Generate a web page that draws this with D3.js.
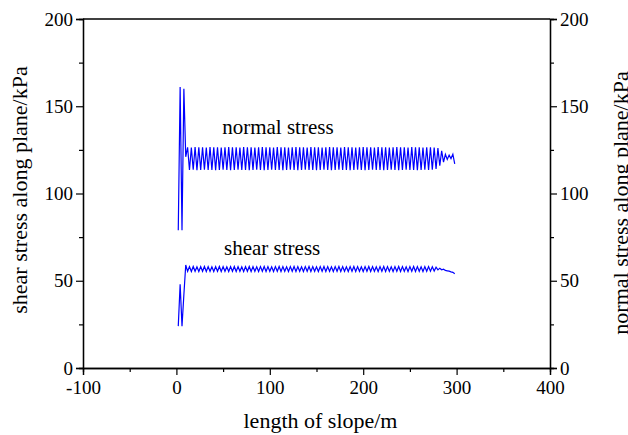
<!DOCTYPE html>
<html>
<head>
<meta charset="utf-8">
<script src="https://cdn.jsdelivr.net/npm/d3@7"></script>
<style>
  body { margin: 0; background: #fff; }
  svg text { font-family: "Liberation Serif", "Times New Roman", serif; fill: #000; }
</style>
</head>
<body>
<div id="chart"></div>
<script>
    // Constants
    const width = 628;
    const height = 435;
    const margin = {top: 19, right: 78, bottom: 67, left: 83};
    const lineColor = "#0000ff";

    // length of slope (m), node positions
    const slopeLength = [
        2, 4, 6, 8, 10, 12, 14, 16, 18, 20, 22, 24, 26, 28, 30, 32, 34, 36, 38, 40, 42, 44, 46, 48, 50,
        52, 54, 56, 58, 60, 62, 64, 66, 68, 70, 72, 74, 76, 78, 80, 82, 84, 86, 88, 90, 92, 94, 96, 98, 100,
        102, 104, 106, 108, 110, 112, 114, 116, 118, 120, 122, 124, 126, 128, 130, 132, 134, 136, 138, 140, 142, 144, 146, 148, 150,
        152, 154, 156, 158, 160, 162, 164, 166, 168, 170, 172, 174, 176, 178, 180, 182, 184, 186, 188, 190, 192, 194, 196, 198, 200,
        202, 204, 206, 208, 210, 212, 214, 216, 218, 220, 222, 224, 226, 228, 230, 232, 234, 236, 238, 240, 242, 244, 246, 248, 250,
        252, 254, 256, 258, 260, 262, 264, 266, 268, 270, 272, 274, 276, 278, 280, 282, 284, 286, 288, 290, 292, 294, 296, 298
    ];

    // normal stress along plane (kPa)
    const normalStress = [
        79, 161, 79, 160, 121,
        126.5, 113.5, 126.4, 113.6, 126.6, 113.4, 126.5, 113.5, 126.5, 113.6, 126.4, 113.5, 126.6, 113.5, 126.5, 113.4, 126.5, 113.5, 126.4, 113.6,
        126.5, 113.5, 126.6, 113.4, 126.5, 113.5, 126.5, 113.6, 126.4, 113.5, 126.6, 113.5, 126.5, 113.4, 126.5, 113.5, 126.4, 113.6, 126.5, 113.5,
        126.6, 113.4, 126.5, 113.5, 126.5, 113.6, 126.4, 113.5, 126.6, 113.5, 126.5, 113.4, 126.5, 113.5, 126.4, 113.6, 126.5, 113.5, 126.6, 113.4,
        126.5, 113.5, 126.5, 113.6, 126.4, 113.5, 126.6, 113.5, 126.5, 113.4, 126.5, 113.5, 126.4, 113.6, 126.5, 113.5, 126.6, 113.4, 126.5, 113.5,
        126.5, 113.6, 126.4, 113.5, 126.6, 113.5, 126.5, 113.4, 126.5, 113.5, 126.4, 113.6, 126.5, 113.5, 126.6, 113.4, 126.5, 113.5, 126.5, 113.6,
        126.4, 113.5, 126.6, 113.5, 126.5, 113.4, 126.5, 113.5, 126.4, 113.6, 126.5, 113.5, 126.6, 113.4, 126.5, 113.5, 126.5, 113.6, 126.4, 113.5,
        126.6, 113.5, 126.5, 113.4, 126.5, 113.5, 126.4, 113.6, 126.5, 113.5, 126.5, 113.6, 126.4, 114,
        126, 116, 124.5, 118, 122.5, 119.5, 122, 120, 122.5, 117
    ];

    // shear stress along plane (kPa)
    const shearStress = [
        24, 48, 24, 42, 59,
        55.4, 58.1, 55.3, 58.2, 55.4, 58.0, 55.3, 58.1, 55.4, 58.2, 55.3, 58.1, 55.4, 58.0, 55.3, 58.1, 55.4, 58.2, 55.3, 58.1,
        55.4, 58.0, 55.3, 58.1, 55.4, 58.2, 55.3, 58.1, 55.4, 58.0, 55.3, 58.1, 55.4, 58.2, 55.3, 58.1, 55.4, 58.0, 55.3, 58.1,
        55.4, 58.2, 55.3, 58.1, 55.4, 58.0, 55.3, 58.1, 55.4, 58.2, 55.3, 58.1, 55.4, 58.0, 55.3, 58.1, 55.4, 58.2, 55.3, 58.1,
        55.4, 58.0, 55.3, 58.1, 55.4, 58.2, 55.3, 58.1, 55.4, 58.0, 55.3, 58.1, 55.4, 58.2, 55.3, 58.1, 55.4, 58.0, 55.3, 58.1,
        55.4, 58.2, 55.3, 58.1, 55.4, 58.0, 55.3, 58.1, 55.4, 58.2, 55.3, 58.1, 55.4, 58.0, 55.3, 58.1, 55.4, 58.2, 55.3, 58.1,
        55.4, 58.0, 55.3, 58.1, 55.4, 58.2, 55.3, 58.1, 55.4, 58.0, 55.3, 58.1, 55.4, 58.2, 55.3, 58.1, 55.4, 58.0, 55.3, 58.1,
        55.4, 58.2, 55.3, 58.1, 55.4, 58.0, 55.3, 58.1, 55.4, 58.1, 55.5, 58.0, 55.6, 57.8,
        56.2, 57.2, 56.3, 56.6, 55.9, 55.7, 55.5, 55.1, 54.8, 54
    ];

    // tick labels
    const xTicks = [-100, 0, 100, 200, 300, 400];
    const xMinorTicks = [-50, 50, 150, 250, 350];
    const yTicks = [0, 50, 100, 150, 200];
    const yMinorTicks = [25, 75, 125, 175];

    // annotations
    const seriesLabels = [
        {text: "normal stress", x: 49, y: 134},
        {text: "shear stress", x: 51, y: 65}
    ];

    const svg = d3.select("#chart")
        .append("svg")
        .attr("width", width)
        .attr("height", height);

    svg.append("rect")
        .attr("width", width)
        .attr("height", height)
        .attr("fill", "#ffffff");

    const x = d3.scaleLinear()
        .domain([-100, 400])
        .range([margin.left, width - margin.right]);

    const y = d3.scaleLinear()
        .domain([0, 200])
        .range([height - margin.bottom, margin.top]);

    function styleAxis(g)
    {
        g.select(".domain").attr("stroke", "#000").attr("stroke-width", 1.3);
        g.selectAll(".tick line").attr("stroke", "#000").attr("stroke-width", 1.2);
        g.selectAll(".tick text")
            .attr("font-size", 19)
            .attr("font-family", "'Liberation Serif', 'Times New Roman', serif");
    }

    // top border
    svg.append("line")
        .attr("x1", x(-100)).attr("x2", x(400))
        .attr("y1", y(200)).attr("y2", y(200))
        .attr("stroke", "#000")
        .attr("stroke-width", 1.3);

    // bottom axis
    svg.append("g")
        .attr("transform", `translate(0,${y(0)})`)
        .call(d3.axisBottom(x).tickValues(xMinorTicks).tickSize(4).tickFormat(""))
        .call(styleAxis);
    svg.append("g")
        .attr("transform", `translate(0,${y(0)})`)
        .call(d3.axisBottom(x).tickValues(xTicks).tickSize(7).tickPadding(6).tickFormat(d3.format("d")))
        .call(styleAxis)
        .selectAll(".tick text").text(d => d < 0 ? "-" + Math.abs(d) : d);

    // left axis
    svg.append("g")
        .attr("transform", `translate(${x(-100)},0)`)
        .call(d3.axisLeft(y).tickValues(yMinorTicks).tickSize(4).tickFormat(""))
        .call(styleAxis);
    svg.append("g")
        .attr("transform", `translate(${x(-100)},0)`)
        .call(d3.axisLeft(y).tickValues(yTicks).tickSize(7).tickPadding(3))
        .call(styleAxis);

    // right axis
    svg.append("g")
        .attr("transform", `translate(${x(400)},0)`)
        .call(d3.axisRight(y).tickValues(yMinorTicks).tickSize(4).tickFormat(""))
        .call(styleAxis);
    svg.append("g")
        .attr("transform", `translate(${x(400)},0)`)
        .call(d3.axisRight(y).tickValues(yTicks).tickSize(7).tickPadding(3))
        .call(styleAxis);

    // lines
    const line = d3.line()
        .x(d => x(d[0]))
        .y(d => y(d[1]));

    [normalStress, shearStress].forEach(function(series)
    {
        svg.append("path")
            .datum(slopeLength.map((s, i) => [s, series[i]]))
            .attr("d", line)
            .attr("fill", "none")
            .attr("stroke", lineColor)
            .attr("stroke-width", 1.2)
            .attr("stroke-linejoin", "miter");
    });

    // series annotations
    svg.selectAll(".series-label")
        .data(seriesLabels)
        .enter()
        .append("text")
        .attr("class", "series-label")
        .attr("x", d => x(d.x))
        .attr("y", d => y(d.y))
        .attr("font-size", 21)
        .text(d => d.text);

    // axis titles
    svg.append("text")
        .attr("x", (x(-100) + x(400)) / 2 + 4)
        .attr("y", 428)
        .attr("text-anchor", "middle")
        .attr("font-size", 22)
        .text("length of slope/m");

    svg.append("text")
        .attr("transform", "translate(27,190) rotate(-90)")
        .attr("text-anchor", "middle")
        .attr("font-size", 22)
        .text("shear stress along plane/kPa");

    svg.append("text")
        .attr("transform", "translate(628,203) rotate(-90)")
        .attr("text-anchor", "middle")
        .attr("font-size", 22)
        .text("normal stress along plane/kPa");
</script>
</body>
</html>
